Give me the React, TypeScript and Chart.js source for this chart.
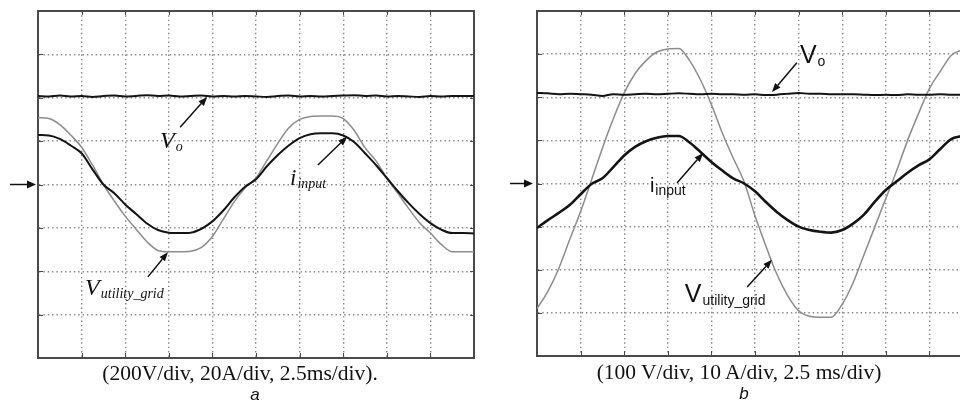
import React, { useEffect, useRef } from "react";
import { Chart, registerables } from "chart.js";

Chart.register(...registerables);

// time axis in divisions (2.5 ms/div)
const timeA = [
  0, 0.25, 0.5, 0.75, 1, 1.25, 1.5, 1.75, 2, 2.25, 2.5, 2.75, 3, 3.25, 3.5, 3.75, 4, 4.25, 4.5, 4.75,
  5, 5.25, 5.5, 5.75, 6, 6.25, 6.5, 6.75, 7, 7.25, 7.5, 7.75, 8, 8.25, 8.5, 8.75, 9, 9.25, 9.5, 9.75, 10,
];
const timeB = [
  0, 0.25, 0.5, 0.75, 1, 1.25, 1.5, 1.75, 2, 2.25, 2.5, 2.75, 3, 3.25, 3.5, 3.75, 4, 4.25, 4.5, 4.75,
  5, 5.25, 5.5, 5.75, 6, 6.25, 6.5, 6.75, 7, 7.25, 7.5, 7.75, 8, 8.25, 8.5, 8.75, 9, 9.25, 9.5, 9.75,
];

// panel a (values in divisions)
const aVo = [
  2.04, 2.03, 2.05, 2.03, 2.04, 2.02, 2.04, 2.05, 2.03, 2.04, 2.06, 2.04, 2.05, 2.03, 2.04, 2.05, 2.03, 2.04, 2.03, 2.04,
  2.03, 2.02, 2.04, 2.05, 2.03, 2.04, 2.03, 2.04, 2.05, 2.06, 2.04, 2.05, 2.03, 2.04, 2.03, 2.02, 2.04, 2.03, 2.04, 2.04, 2.04,
];
const aInput = [
  1.14, 1.13, 1.05, 0.9, 0.72, 0.35, 0.0, -0.2, -0.46, -0.68, -0.9, -1.05, -1.11, -1.12, -1.11, -1.02, -0.85, -0.6, -0.3, -0.05,
  0.12, 0.42, 0.68, 0.9, 1.07, 1.16, 1.18, 1.18, 1.13, 0.98, 0.72, 0.45, 0.15, -0.15, -0.43, -0.68, -0.89, -1.04, -1.12, -1.12, -1.13,
];
const aGrid = [
  1.54, 1.52, 1.38, 1.14, 0.86, 0.45, 0.0, -0.38, -0.73, -1.03, -1.32, -1.52, -1.55, -1.55, -1.54, -1.45, -1.2, -0.8, -0.4, -0.08,
  0.15, 0.55, 0.95, 1.3, 1.5, 1.57, 1.58, 1.58, 1.52, 1.25, 0.85, 0.55, 0.15, -0.2, -0.55, -0.88, -1.12, -1.38, -1.55, -1.55, -1.55,
];

// panel b (values in divisions)
const bVo = [
  2.1, 2.09, 2.07, 2.08, 2.07, 2.06, 2.03, 2.07, 2.06, 2.07, 2.08, 2.07, 2.08, 2.09, 2.08, 2.07, 2.08, 2.07, 2.07, 2.06,
  2.07, 2.05, 2.06, 2.08, 2.1, 2.08, 2.08, 2.07, 2.07, 2.07, 2.06, 2.05, 2.06, 2.05, 2.07, 2.06, 2.06, 2.07, 2.06, 2.06,
];
const bInput = [
  -1.03, -0.85, -0.68, -0.5, -0.25, -0.01, 0.12, 0.38, 0.65, 0.85, 0.98, 1.06, 1.1, 1.1, 0.95, 0.73, 0.5, 0.3, 0.12, 0.0,
  -0.18, -0.43, -0.66, -0.85, -1.0, -1.08, -1.12, -1.14, -1.08, -0.93, -0.72, -0.42, -0.15, 0.05, 0.25, 0.42, 0.56, 0.8, 1.03, 1.1,
];
const bGrid = [
  -2.9, -2.5, -1.97, -1.3, -0.65, 0.08, 0.82, 1.5, 2.1, 2.55, 2.85, 3.05, 3.12, 3.13, 2.85, 2.4, 1.83, 1.17, 0.59, 0.04,
  -0.75, -1.45, -2.1, -2.6, -2.95, -3.08, -3.1, -3.1, -2.8, -2.3, -1.65, -1.0, -0.35, 0.3, 1.0, 1.62, 2.2, 2.6, 2.97, 3.1,
];

const captionA = "(200V/div, 20A/div, 2.5ms/div).";
const captionB = "(100 V/div, 10 A/div, 2.5 ms/div)";
const panelA = "a";
const panelB = "b";

type Ann = { tail: [number, number]; tip: [number, number]; at: [number, number]; main: string; sub: string; size: number };

const annA: Ann[] = [
  { tail: [3.26, 1.32], tip: [3.88, 2.02], at: [2.8, 0.84], main: "V", sub: "o", size: 24 },
  { tail: [6.42, 0.45], tip: [7.09, 1.1], at: [5.78, -0.01], main: "i", sub: "input", size: 23 },
  { tail: [2.52, -2.13], tip: [2.98, -1.56], at: [1.08, -2.55], main: "V", sub: "utility_grid", size: 24 },
];
const annB: Ann[] = [
  { tail: [5.96, 2.8], tip: [5.39, 2.12], at: [6.03, 2.8], main: "V", sub: "o", size: 25 },
  { tail: [3.21, 0.01], tip: [3.81, 0.71], at: [2.59, -0.2], main: "i", sub: "input", size: 20 },
  { tail: [4.82, -2.4], tip: [5.39, -1.77], at: [3.39, -2.75], main: "V", sub: "utility_grid", size: 25 },
];

const FRAME = "#4a4a4a";
const GRID = "#858585";
const BLACK = "#141414";
const GRAY = "#8c8c8c";

function drawArrow(ctx: CanvasRenderingContext2D, x1: number, y1: number, x2: number, y2: number, head = 9, half = 3.5, width = 1.5) {
  const ang = Math.atan2(y2 - y1, x2 - x1);
  const bx = x2 - head * Math.cos(ang);
  const by = y2 - head * Math.sin(ang);
  ctx.beginPath();
  ctx.moveTo(x1, y1);
  ctx.lineTo(bx, by);
  ctx.lineWidth = width;
  ctx.stroke();
  ctx.beginPath();
  ctx.moveTo(x2, y2);
  ctx.lineTo(bx - half * Math.sin(ang), by + half * Math.cos(ang));
  ctx.lineTo(bx + half * Math.sin(ang), by - half * Math.cos(ang));
  ctx.closePath();
  ctx.fill();
}

function makePlugin(anns: Ann[], family: string, italic: boolean, groundFrom: number, groundTo: number) {
  return {
    id: "scopeDecor",
    beforeDatasetsDraw(chart: any) {
      const { ctx, chartArea, scales } = chart;
      const x = scales.x;
      const y = scales.y;
      ctx.save();
      ctx.strokeStyle = FRAME;
      ctx.lineWidth = 1;
      for (let v = 1; v < 10; v++) {
        const px = Math.round(x.getPixelForValue(v)) + 0.5;
        ctx.beginPath();
        ctx.moveTo(px, chartArea.bottom);
        ctx.lineTo(px, chartArea.bottom - 5);
        ctx.moveTo(px, chartArea.top);
        ctx.lineTo(px, chartArea.top + 4);
        ctx.stroke();
      }
      for (let v = -3; v <= 3; v++) {
        const py = Math.round(y.getPixelForValue(v)) + 0.5;
        ctx.beginPath();
        ctx.moveTo(chartArea.left, py);
        ctx.lineTo(chartArea.left + 5, py);
        ctx.moveTo(chartArea.right, py);
        ctx.lineTo(chartArea.right - 4, py);
        ctx.stroke();
      }
      ctx.restore();
    },
    afterDraw(chart: any) {
      const { ctx, chartArea, scales } = chart;
      const x = scales.x;
      const y = scales.y;
      ctx.save();
      ctx.strokeStyle = "#111";
      ctx.fillStyle = "#111";
      const gy = y.getPixelForValue(0);
      drawArrow(ctx, chartArea.left - groundFrom, gy, chartArea.left - groundTo, gy, 9, 4, 1.5);
      for (const a of anns) {
        drawArrow(ctx, x.getPixelForValue(a.tail[0]), y.getPixelForValue(a.tail[1]), x.getPixelForValue(a.tip[0]), y.getPixelForValue(a.tip[1]), 9, 3.5, 1.5);
        const lx = x.getPixelForValue(a.at[0]);
        const ly = y.getPixelForValue(a.at[1]);
        const st = italic ? "italic " : "";
        ctx.font = `${st}${a.size}px ${family}`;
        ctx.textBaseline = "alphabetic";
        ctx.textAlign = "left";
        ctx.fillText(a.main, lx, ly);
        const w = ctx.measureText(a.main).width;
        ctx.font = `${st}14px ${family}`;
        ctx.fillText(a.sub, lx + w + 1, ly + 3);
      }
      ctx.restore();
    },
  };
}

function scopeScales() {
  const gridAxis = (min: number, max: number) => ({
    type: "linear",
    min,
    max,
    ticks: { display: false, stepSize: 1 },
    grid: { color: GRID, lineWidth: 1.4, drawTicks: false },
    border: { display: true, color: FRAME, width: 2, dash: [1.4, 2.96] },
  });
  const frameAxis = (min: number, max: number, position: string) => ({
    type: "linear",
    position,
    min,
    max,
    ticks: { display: false },
    grid: { display: false, drawTicks: false },
    border: { display: true, color: FRAME, width: 2 },
  });
  return {
    x: { ...gridAxis(0, 10), position: "bottom" },
    y: { ...gridAxis(-4, 4), position: "left" },
    x2: frameAxis(0, 10, "top"),
    y2: frameAxis(-4, 4, "right"),
  };
}

function pts(t: number[], v: number[]) {
  return v.map((val, i) => ({ x: t[i], y: val }));
}

type ScopeProps = {
  left: number;
  width: number;
  padding: { left: number; right: number; top: number; bottom: number };
  time: number[];
  vo: number[];
  input: number[];
  grid: number[];
  inputWidth: number;
  anns: Ann[];
  family: string;
  italic: boolean;
  groundFrom: number;
  groundTo: number;
};

function Scope(p: ScopeProps) {
  const ref = useRef<HTMLCanvasElement | null>(null);
  useEffect(() => {
    if (!ref.current) return;
    const line = (data: any, color: string, w: number) => ({
      data,
      borderColor: color,
      borderWidth: w,
      pointRadius: 0,
      fill: false,
      cubicInterpolationMode: "monotone",
    });
    const chart = new Chart(ref.current, {
      type: "line",
      data: {
        datasets: [
          { label: "Vo", ...line(pts(p.time, p.vo), BLACK, 2) },
          { label: "i_input", ...line(pts(p.time, p.input), BLACK, p.inputWidth) },
          { label: "V_utility_grid", ...line(pts(p.time, p.grid), GRAY, 1.5) },
        ],
      } as any,
      options: {
        animation: false,
        responsive: false,
        maintainAspectRatio: false,
        devicePixelRatio: 1,
        layout: { padding: p.padding },
        plugins: { legend: { display: false }, tooltip: { enabled: false }, title: { display: false } },
        scales: scopeScales() as any,
      } as any,
      plugins: [makePlugin(p.anns, p.family, p.italic, p.groundFrom, p.groundTo)],
    });
    return () => chart.destroy();
  }, []);
  return (
    <canvas
      ref={ref}
      width={p.width}
      height={407}
      style={{ position: "absolute", left: p.left, top: 0, width: p.width, height: 407 }}
    />
  );
}

export default function App() {
  const capStyle: React.CSSProperties = {
    position: "absolute",
    transform: "translateX(-50%)",
    whiteSpace: "nowrap",
    fontFamily: '"Liberation Serif", serif',
    fontSize: "21.5px",
    lineHeight: 1,
    color: "#111",
  };
  const letterStyle: React.CSSProperties = {
    position: "absolute",
    transform: "translateX(-50%)",
    whiteSpace: "nowrap",
    fontFamily: '"Liberation Sans", sans-serif',
    fontStyle: "italic",
    fontSize: "17px",
    lineHeight: 1,
    color: "#111",
  };
  return (
    <div style={{ position: "fixed", left: 0, top: 0, width: 960, height: 407, overflow: "hidden", background: "#fff" }}>
      <Scope
        left={0}
        width={480}
        padding={{ left: 38, right: 6, top: 11, bottom: 49 }}
        time={timeA}
        vo={aVo}
        input={aInput}
        grid={aGrid}
        inputWidth={2}
        anns={annA}
        family='"Liberation Serif"'
        italic={true}
        groundFrom={28}
        groundTo={2}
      />
      <Scope
        left={480}
        width={500}
        padding={{ left: 57, right: 7, top: 11, bottom: 51 }}
        time={timeB}
        vo={bVo}
        input={bInput}
        grid={bGrid}
        inputWidth={2.6}
        anns={annB}
        family='"Liberation Sans"'
        italic={false}
        groundFrom={27}
        groundTo={4}
      />
      <div style={{ ...capStyle, left: 240, top: 363 }}>{captionA}</div>
      <div style={{ ...letterStyle, left: 255, top: 386 }}>{panelA}</div>
      <div style={{ ...capStyle, left: 739, top: 362 }}>{captionB}</div>
      <div style={{ ...letterStyle, left: 744, top: 385 }}>{panelB}</div>
    </div>
  );
}
